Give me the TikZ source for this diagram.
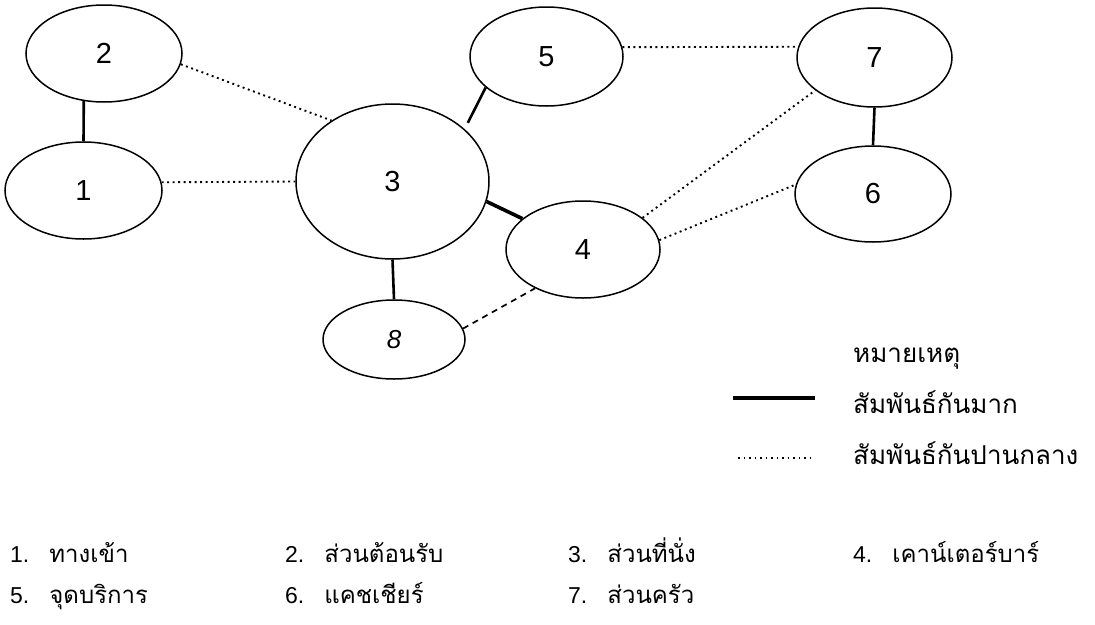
\documentclass[tikz,border=0pt]{standalone}
\usepackage{fontspec}
\setmainfont{Liberation Sans}
\newfontfamily\thaifont[Script=Thai]{Loma}
\newcommand{\thai}[1]{\hspace{20pt}{\thaifont\fontsize{24}{28}\selectfont #1}}
\usetikzlibrary{shapes.geometric}

\begin{document}
\begin{tikzpicture}[x=1pt, y=-1pt,
          every node/.style={font=\fontsize{21}{25}\selectfont},
          zone/.style={draw, ellipse, line width=1.5pt, inner sep=0pt, font=\fontsize{29}{32}\selectfont},
          linkstrong/.style={line width=2.6pt},
          linkmid/.style={line width=1.9pt, dash pattern=on 1.9pt off 3.6pt},
          linkweak/.style={line width=1.7pt, dash pattern=on 6pt off 5pt},
          lgd/.style={anchor=base west, inner sep=0pt, font=\thaifont\fontsize{26}{30}\selectfont},
          lst/.style={anchor=base west, inner sep=0pt, font=\fontsize{23}{27}\selectfont},
        ]
          \useasboundingbox (0,0) rectangle (1095,624);
          \node[zone, minimum width=156pt, minimum height=97pt]  (n2) at (104,53.5)   {2};
          \node[zone, minimum width=157pt, minimum height=97pt]  (n1) at (83.5,190.5) {1};
          \node[zone, minimum width=193pt, minimum height=155pt] (n3) at (392.5,181.5) {3};
          \node[zone, minimum width=153pt, minimum height=99pt]  (n5) at (546.5,56.5) {5};
          \node[zone, minimum width=155pt, minimum height=99pt]  (n7) at (874.5,57.5) {7};
          \node[zone, minimum width=156pt, minimum height=96pt]  (n6) at (873,194)    {6};
          \node[zone, minimum width=154pt, minimum height=97pt]  (n4) at (583,249.5)  {4};
          \node[zone, minimum width=142pt, minimum height=79pt, font=\fontsize{26}{30}\selectfont\itshape] (n8) at (394,339.5) {8};
          \draw[linkstrong] (n1.north) -- (n2.247);
          \draw[linkstrong] (n3.south) -- (n8.north);
          \draw[linkstrong] (n7.south) -- (n6.north);
          \draw[linkstrong, shorten <=7pt] (n3.36) -- (n5.207);
          \draw[linkstrong, line width=3.6pt] (n3.-12) -- (n4.153);
          \draw[linkmid] (n2.-8) -- (n3.135);
          \draw[linkmid] (n1.6) -- (n3.west);
          \draw[linkmid] (n5.7) -- (n7.172);
          \draw[linkmid] (n4.28) -- (n7.209);
          \draw[linkmid] (n4.7) -- (n6.173);
          \draw[linkweak] (n8.9) -- (n4.219);
          \node[lgd] (note)   at (853,362) {หมายเหตุ};
          \node[lgd] (strong) at (853,413) {สัมพันธ์กันมาก};
          \node[lgd] (mid)    at (853,464) {สัมพันธ์กันปานกลาง};
          \coordinate (s1) at (733,398);
          \coordinate (s2) at (815,398);
          \coordinate (m1) at (738,458);
          \coordinate (m2) at (813,458);
          \draw[linkstrong, line width=3.2pt] (s1) -- (s2);
          \draw[linkmid] (m1) -- (m2);
          \node[lst] (i1) at (10,562)  {1.\thai{ทางเข้า}};
          \node[lst] (i2) at (285,562) {2.\thai{ส่วนต้อนรับ}};
          \node[lst] (i3) at (568,562) {3.\thai{ส่วนที่นั่ง}};
          \node[lst] (i4) at (853,562) {4.\thai{เคาน์เตอร์บาร์}};
          \node[lst] (i5) at (10,603)  {5.\thai{จุดบริการ}};
          \node[lst] (i6) at (285,603) {6.\thai{แคชเชียร์}};
          \node[lst] (i7) at (568,603) {7.\thai{ส่วนครัว}};
        \end{tikzpicture}
\end{document}
